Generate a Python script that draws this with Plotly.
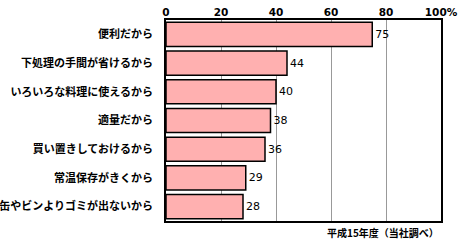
import plotly.graph_objects as go

categories = ["便利だから", "下処理の手間が省けるから", "いろいろな料理に使えるから", "適量だから",
              "買い置きしておけるから", "常温保存がきくから", "缶やビンよりゴミが出ないから"]
values = [75, 44, 40, 38, 36, 29, 28]
tick_vals = [0, 20, 40, 60, 80, 100]
tick_text = ["0", "20", "40", "60", "80", "100%"]
note = "平成15年度（当社調べ）"

fig = go.Figure(go.Bar(
    x=values, y=categories, orientation="h",
    marker=dict(color="#FFB0B0", line=dict(color="black", width=1.5)),
    text=[str(v) for v in values], textposition="outside",
    textfont=dict(family="DejaVu Sans", size=11, color="black"),
    cliponaxis=False,
))
fig.update_layout(
    width=470, height=243,
    margin=dict(l=166, r=29, t=20, b=22, autoexpand=False),
    paper_bgcolor="white", plot_bgcolor="white",
    bargap=0.16, showlegend=False,
    xaxis=dict(range=[0, 100], side="top", tickvals=tick_vals, ticktext=tick_text,
               showgrid=True, gridcolor="#999999", gridwidth=1, zeroline=False,
               showline=True, linecolor="black", linewidth=1.5, mirror=True,
               ticks="", fixedrange=True, automargin=False, ticklabelstandoff=-2,
               tickfont=dict(family="DejaVu Sans", size=10.5, color="black", weight="bold")),
    yaxis=dict(autorange="reversed", showline=True, linecolor="black", linewidth=1.5, mirror=True,
               ticks="", ticklabelstandoff=9, automargin=False,
               tickfont=dict(family="Noto Sans CJK JP", size=11, color="black", weight="bold")),
    annotations=[dict(text=note, x=1, y=0, xref="paper", yref="paper", xanchor="right",
                      yanchor="top", yshift=-2, showarrow=False,
                      font=dict(family="Noto Sans CJK JP", size=10, color="black", weight="bold"))],
)
fig.write_html("out.html")
